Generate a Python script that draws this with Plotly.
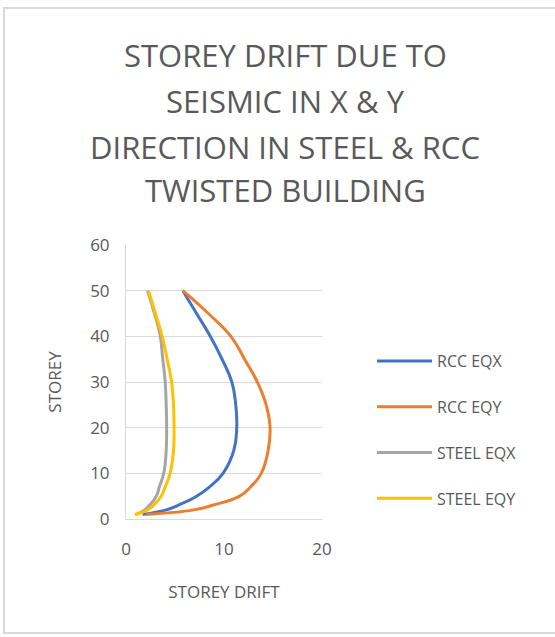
import plotly.graph_objects as go

storey = [1, 2, 3, 5, 7, 10, 15, 20, 25, 30, 35, 40, 45, 50]
rcc_eqx = [1.7, 4.1, 5.3, 7.2, 8.5, 9.9, 11.0, 11.3, 11.2, 10.8, 9.8, 8.6, 7.2, 5.8]
rcc_eqy = [2.1, 6.9, 8.8, 11.6, 12.7, 13.8, 14.5, 14.7, 14.3, 13.4, 12.1, 10.7, 8.4, 5.8]
steel_eqx = [1.1, 1.9, 2.4, 3.1, 3.4, 3.85, 4.1, 4.15, 4.1, 4.0, 3.75, 3.5, 2.9, 2.2]
steel_eqy = [0.9, 2.2, 2.8, 3.6, 4.0, 4.5, 4.85, 4.9, 4.85, 4.65, 4.2, 3.7, 3.0, 2.3]

series = [
    ("RCC EQX", rcc_eqx, "#4472C4"),
    ("RCC EQY", rcc_eqy, "#ED7D31"),
    ("STEEL EQX", steel_eqx, "#A5A5A5"),
    ("STEEL EQY", steel_eqy, "#FFC000"),
]

title_lines = ["STOREY DRIFT DUE TO", "SEISMIC IN X &amp; Y",
               "DIRECTION IN STEEL &amp; RCC", "TWISTED BUILDING"]

fig = go.Figure()
for i, (name, vals, col) in enumerate(series):
    fig.add_trace(go.Scatter(
        x=vals, y=storey, mode="lines", name=name,
        line=dict(color=col, width=3, shape="spline", smoothing=1.3),
        legendgroup=f"g{i}",
    ))

L, R, T, B = 126, 555 - 322, 245, 637 - 519
W, H = 555 - L - R, 637 - T - B

def px_x(p):
    return (p - L) / W

def px_y(p):
    return (637 - B - p) / H

title_y = [55, 101, 147, 190]
annotations = [dict(
    text=t, xref="paper", yref="paper",
    x=px_x(285), y=px_y(yy), xanchor="center", yanchor="middle",
    showarrow=False, align="center",
    font=dict(size=31, color="#595959", family="Open Sans, sans-serif"),
) for t, yy in zip(title_lines, title_y)]

fig.update_layout(
    width=555, height=637,
    margin=dict(l=L, r=R, t=T, b=B),
    paper_bgcolor="white", plot_bgcolor="white",
    font=dict(family="Open Sans, Lato, sans-serif", color="#595959", size=16),
    showlegend=True,
    legend=dict(
        x=px_x(372), y=px_y(344), xanchor="left", yanchor="top",
        font=dict(size=16, color="#595959"),
        tracegroupgap=22, traceorder="grouped", itemwidth=55,
        bgcolor="rgba(0,0,0,0)",
    ),
    xaxis=dict(
        range=[0, 20], dtick=10, showgrid=False, zeroline=False,
        showline=True, linecolor="#d9d9d9", linewidth=1,
        ticks="", ticklabelstandoff=15, tickfont=dict(size=17, color="#595959"),
        title=dict(text="STOREY DRIFT", font=dict(size=17, color="#595959"), standoff=26),
    ),
    yaxis=dict(
        range=[0, 60], dtick=10, showgrid=True, gridcolor="#d9d9d9", gridwidth=1,
        zeroline=False, showline=True, linecolor="#d9d9d9", linewidth=1,
        ticks="", ticklabelstandoff=12, tickfont=dict(size=17, color="#595959"),
        title=dict(text="STOREY", font=dict(size=17, color="#595959"), standoff=24),
    ),
    annotations=annotations,
    shapes=[dict(
        type="rect", xref="paper", yref="paper",
        x0=px_x(4), x1=px_x(600), y0=px_y(633), y1=px_y(8),
        line=dict(color="#d9d9d9", width=2), layer="below",
    )],
)

fig.write_html("out.html")
